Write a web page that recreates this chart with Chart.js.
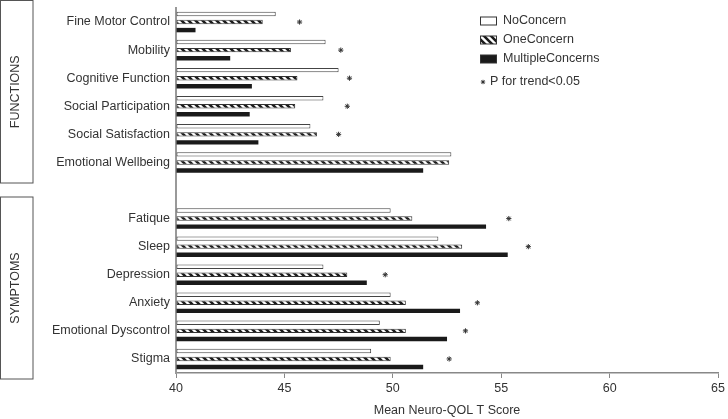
<!DOCTYPE html>
<html>
<head>
<meta charset="utf-8">
<script src="https://cdn.jsdelivr.net/npm/chart.js@4.4.1/dist/chart.umd.min.js"></script>
<style>
  html, body { margin: 0; padding: 0; background: #ffffff; }
  #wrap { position: relative; width: 728px; height: 419px; }
</style>
</head>
<body>
<div id="wrap"><canvas id="c" width="728" height="419"></canvas></div>
<script>
const categories = ['Fine Motor Control', 'Mobility', 'Cognitive Function', 'Social Participation', 'Social Satisfaction', 'Emotional Wellbeing', '', 'Fatique', 'Sleep', 'Depression', 'Anxiety', 'Emotional Dyscontrol', 'Stigma'];
const noConcern = [44.6, 46.9, 47.5, 46.8, 46.2, 52.7, null, 49.9, 52.1, 46.8, 49.9, 49.4, 49.0];
const oneConcern = [44.0, 45.3, 45.6, 45.5, 46.5, 52.6, null, 50.9, 53.2, 47.9, 50.6, 50.6, 49.9];
const multipleConcerns = [40.9, 42.5, 43.5, 43.4, 43.8, 51.4, null, 54.3, 55.3, 48.8, 53.1, 52.5, 51.4];
const trendStars = [45.7, 47.6, 48.0, 47.9, 47.5, null, null, 55.35, 56.25, 49.65, 53.9, 53.35, 52.6];
const seriesNames = ['NoConcern', 'OneConcern', 'MultipleConcerns'];
const trendLabel = 'P for trend<0.05';
const groupNames = ['FUNCTIONS', 'SYMPTOMS'];
const xTitle = 'Mean Neuro-QOL T Score';
const xMin = 40, xMax = 65, xStep = 5;

const FONT = '"Liberation Sans", Arial, sans-serif';
const TXT = '#333333';

function makeHatch() {
  const s = 7;
  const p = document.createElement('canvas');
  p.width = s; p.height = s;
  const g = p.getContext('2d');
  g.fillStyle = '#ffffff';
  g.fillRect(0, 0, s, s);
  g.strokeStyle = '#1a1a1a';
  g.lineWidth = 2.6;
  g.beginPath();
  for (let k = -1; k <= 1; k++) {
    g.moveTo(k * s - 1, -1);
    g.lineTo(k * s + s + 1, s + 1);
  }
  g.stroke();
  return g.createPattern(p, 'repeat');
}
const ctx = document.getElementById('c').getContext('2d');
const hatch = makeHatch();

const decorPlugin = {
  id: 'decor',
  afterDraw(chart) {
    const c = chart.ctx;
    const ys = chart.scales.y;
    const area = chart.chartArea;
    c.save();
    // group boxes
    const gapIdx = categories.indexOf('');
    const gapY = ys.getPixelForValue(gapIdx);
    const boxes = [
      [0.5, gapY - 7.5],
      [gapY + 6.5, area.bottom + 6]
    ];
    c.strokeStyle = '#555555';
    c.lineWidth = 1;
    boxes.forEach((b, i) => {
      c.strokeRect(0.5, b[0], 32.5, b[1] - b[0]);
      c.save();
      c.translate(16, (b[0] + b[1]) / 2);
      c.rotate(-Math.PI / 2);
      c.fillStyle = TXT;
      c.font = '12.5px ' + FONT;
      c.textAlign = 'center';
      c.textBaseline = 'middle';
      c.fillText(groupNames[i], 0, 0);
      c.restore();
    });
    // legend
    const lx = 480.5, ly = [21, 40, 59];
    const fills = ['#ffffff', hatch, '#1a1a1a'];
    c.font = '12.5px ' + FONT;
    c.textBaseline = 'middle';
    c.textAlign = 'left';
    seriesNames.forEach((n, i) => {
      c.fillStyle = fills[i];
      c.fillRect(lx, ly[i] - 4, 16, 8);
      c.strokeStyle = '#333333';
      c.lineWidth = 1;
      c.strokeRect(lx, ly[i] - 4, 16, 8);
      c.fillStyle = TXT;
      c.fillText(n, 503, ly[i]);
    });
    // star legend
    c.strokeStyle = '#333333';
    c.lineWidth = 1;
    const sx = 483, sy = 82, r = 2.2;
    c.beginPath();
    for (let a = 0; a < 4; a++) {
      const ang = a * Math.PI / 4;
      c.moveTo(sx - r * Math.cos(ang), sy - r * Math.sin(ang));
      c.lineTo(sx + r * Math.cos(ang), sy + r * Math.sin(ang));
    }
    c.stroke();
    c.fillStyle = TXT;
    c.fillText(trendLabel, 490, sy);
    c.restore();
  }
};

new Chart(ctx, {
  data: {
    labels: categories,
    datasets: [
      {
        type: 'line', label: trendLabel, data: trendStars, indexAxis: 'y',
        showLine: false, pointStyle: 'star', pointRadius: 2.6, pointHoverRadius: 2.6,
        pointBorderColor: '#333333', pointBackgroundColor: '#333333', pointBorderWidth: 1, order: 0
      },
      {
        type: 'bar', label: seriesNames[0], data: noConcern, base: xMin,
        backgroundColor: '#ffffff', borderColor: '#444444', borderWidth: 1, borderSkipped: false, order: 1
      },
      {
        type: 'bar', label: seriesNames[1], data: oneConcern, base: xMin,
        backgroundColor: hatch, borderColor: '#333333', borderWidth: 1, borderSkipped: false, order: 1
      },
      {
        type: 'bar', label: seriesNames[2], data: multipleConcerns, base: xMin,
        backgroundColor: '#1a1a1a', borderColor: '#1a1a1a', borderWidth: 0, order: 1
      }
    ]
  },
  options: {
    indexAxis: 'y',
    responsive: false,
    animation: false,
    datasets: { bar: { categoryPercentage: 0.86, barPercentage: 0.55 } },
    layout: { padding: { left: 0, right: 9, top: 8, bottom: 0 } },
    plugins: { legend: { display: false }, tooltip: { enabled: false } },
    scales: {
      x: {
        type: 'linear', min: xMin, max: xMax,
        ticks: { stepSize: xStep, color: TXT, font: { family: FONT, size: 12.5 }, padding: 3 },
        grid: { display: true, drawOnChartArea: false, drawTicks: true, tickLength: 5, color: '#888888' },
        border: { display: true, color: '#888888', width: 1.5 },
        title: { display: true, text: xTitle, color: TXT, font: { family: FONT, size: 12.5 }, padding: { top: 4, bottom: 1 } },
        afterFit(s) { s.height = 46; s.paddingLeft = 0; }
      },
      y: {
        type: 'category',
        ticks: { color: TXT, font: { family: FONT, size: 12.5 }, padding: 6, autoSkip: false },
        grid: { display: false, drawTicks: false },
        border: { display: true, color: '#999999', width: 2 },
        afterFit(s) { s.width = 176; s.paddingTop = 0; s.paddingBottom = 0; }
      }
    }
  },
  plugins: [decorPlugin]
});
</script>
</body>
</html>
